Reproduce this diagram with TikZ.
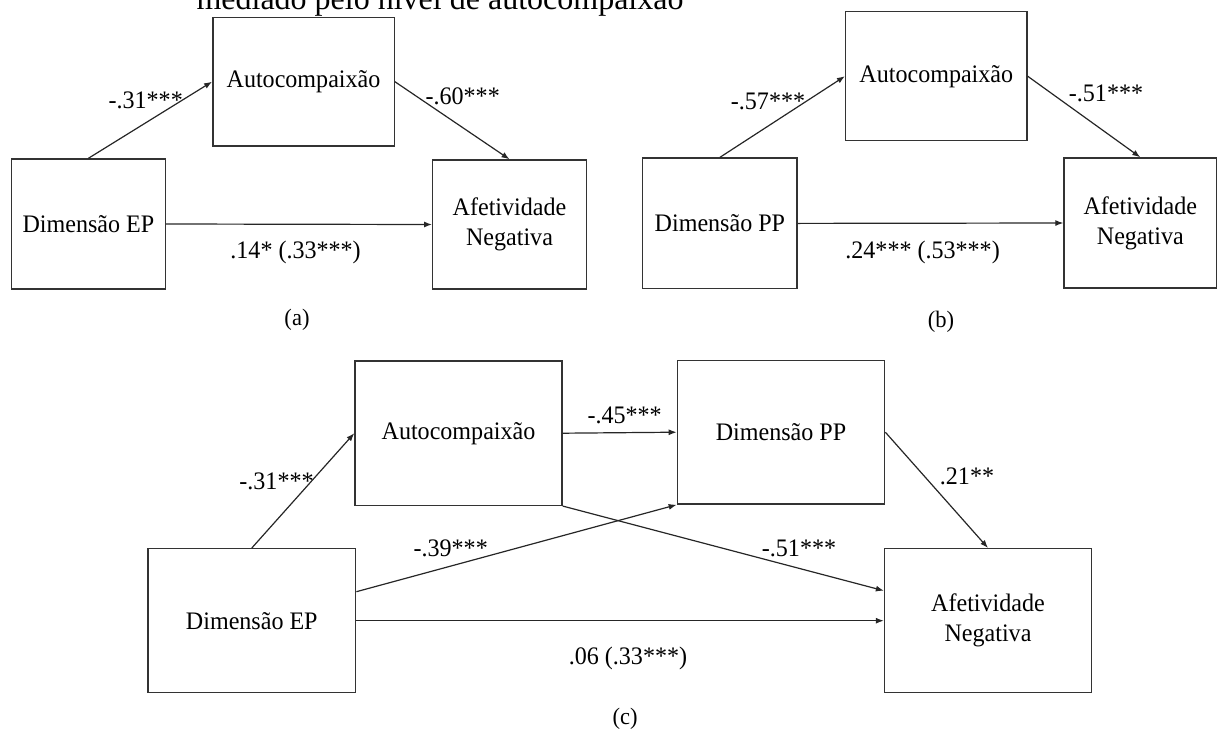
\documentclass[tikz,border=0pt]{standalone}
\usepackage{fontspec}
\setmainfont{Liberation Serif}[FakeStretch=0.955]
\newfontfamily\headfont{Liberation Serif}
\usetikzlibrary{arrows.meta,calc}

\begin{document}
\begin{tikzpicture}[x=1pt,y=-1pt,
  varbox/.style={draw=black!80, line width=1.4pt, rectangle, inner sep=0pt,
                 align=center, font=\fontsize{25.2}{30}\selectfont},
  link/.style={draw=black!85, line width=1.2pt, -{Latex[length=8pt,width=6pt]}},
  coef/.style={font=\fontsize{25.2}{29}\selectfont, anchor=base, inner sep=0pt},
  panel/.style={font=\fontsize{23.6}{27}\selectfont, inner sep=0pt}]
\useasboundingbox (0,0) rectangle (1218,731);
\clip (0,0) rectangle (1218,731);

% caption line running above the figure, cut by the top edge
\node[anchor=base, inner sep=0pt, font=\headfont\fontsize{32}{38}\selectfont] (head) at (440,9)
  {mediado pelo nível de autocompaixão};

% ---------- (a) ----------
\node[varbox, minimum width=153.8pt, minimum height=130pt] (EPa) at (88.4,224) {Dimensão EP};
\node[varbox, minimum width=181.4pt, minimum height=128.7pt] (Aa) at (303.5,81.7) {Autocompaixão};
\node[varbox, minimum width=153.5pt, minimum height=129pt] (Na) at (509.5,224.5) {Afetividade\\Negativa};
\draw[link] (EPa.north) -- (Aa.west);
\draw[link] (Aa.east) -- (Na.north);
\draw[link] (EPa.east) -- (Na.west);
\node[coef] (ca1) at (145.7,108) {-.31***};
\node[coef] (ca2) at (462.7,104) {-.60***};
\node[coef] (ca3) at (295.6,258) {.14* (.33***)};
\node[panel] (la) at (297,320) {(a)};

% ---------- (b) ----------
\node[varbox, minimum width=154.5pt, minimum height=130.7pt] (PPb) at (719.9,223.4) {Dimensão PP};
\node[varbox, minimum width=181.3pt, minimum height=129pt] (Ab) at (936.3,76.2) {Autocompaixão};
\node[varbox, minimum width=152.5pt, minimum height=130pt] (Nb) at (1140.3,223) {Afetividade\\Negativa};
\draw[link] (PPb.north) -- (Ab.west);
\draw[link] (Ab.east) -- (Nb.north);
\draw[link] (PPb.east) -- (Nb.west);
\node[coef] (cb1) at (768,109.7) {-.57***};
\node[coef] (cb2) at (1106,101) {-.51***};
\node[coef] (cb3) at (922.6,258) {.24*** (.53***)};
\node[panel] (lb) at (941,322) {(b)};

% ---------- (c) ----------
\node[varbox, minimum width=207.8pt, minimum height=144pt] (EPc) at (251.8,620.7) {Dimensão EP};
\node[varbox, minimum width=207pt, minimum height=144.3pt] (Ac) at (458.5,433.2) {Autocompaixão};
\node[varbox, minimum width=207.3pt, minimum height=143.7pt] (PPc) at (781,432.2) {Dimensão PP};
\node[varbox, minimum width=206.9pt, minimum height=144pt] (Nc) at (988,620.7) {Afetividade\\Negativa};
\draw[link] (EPc.north) -- (Ac.west);
\draw[link] (Ac.east) -- (PPc.west);
\draw[link] (Ac.south east) -- ([yshift=30pt]Nc.west);
\draw[link] ([yshift=29pt]EPc.east) -- (PPc.south west);
\draw[link] (EPc.east) -- (Nc.west);
\draw[link] (PPc.east) -- (Nc.north);
\node[coef] (cc1) at (276.5,489.7) {-.31***};
\node[coef] (cc2) at (624.6,423) {-.45***};
\node[coef] (cc3) at (450.7,556.3) {-.39***};
\node[coef] (cc4) at (799,556.3) {-.51***};
\node[coef] (cc5) at (967,484.7) {.21**};
\node[coef] (cc6) at (628,664.7) {.06 (.33***)};
\node[panel] (lc) at (625,719) {(c)};
\end{tikzpicture}
\end{document}
